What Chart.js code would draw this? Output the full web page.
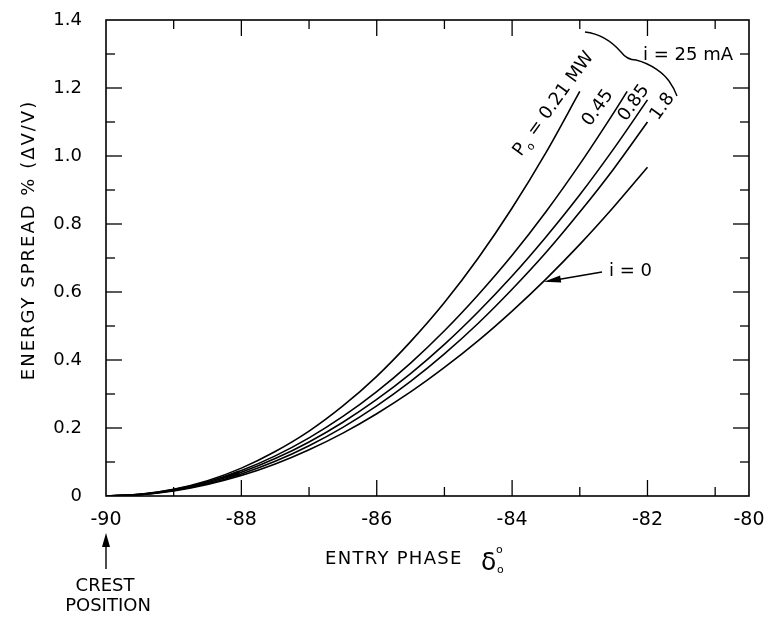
<!DOCTYPE html>
<html><head><meta charset="utf-8">
<script src="https://cdn.jsdelivr.net/npm/chart.js@4/dist/chart.umd.min.js"></script>
<style>html,body{margin:0;padding:0;background:#fff}canvas{display:block}</style>
</head><body>
<canvas id="c" width="765" height="618"></canvas>
<script>
// ---- data ----
const phaseP021 = [-90,-89.5,-89,-88.5,-88,-87.5,-87,-86.5,-86,-85.5,-85,-84.5,-84,-83.5,-83];
const spreadP021 = [0,0.005,0.020,0.045,0.082,0.131,0.191,0.265,0.352,0.454,0.569,0.700,0.847,1.010,1.190];

const phaseP045 = [-90,-89.5,-89,-88.5,-88,-87.5,-87,-86.5,-86,-85.5,-85,-84.5,-84,-83.5,-83,-82.5,-82.3];
const spreadP045 = [0,0.005,0.019,0.042,0.075,0.118,0.171,0.234,0.307,0.391,0.486,0.592,0.708,0.836,0.976,1.127,1.190];

const phaseP085 = [-90,-89.5,-89,-88.5,-88,-87.5,-87,-86.5,-86,-85.5,-85,-84.5,-84,-83.5,-83,-82.5,-82];
const spreadP085 = [0,0.004,0.017,0.039,0.070,0.110,0.159,0.217,0.284,0.360,0.446,0.542,0.647,0.762,0.886,1.021,1.165];

const phaseP18 = [-90,-89.5,-89,-88.5,-88,-87.5,-87,-86.5,-86,-85.5,-85,-84.5,-84,-83.5,-83,-82.5,-82];
const spreadP18 = [0,0.004,0.016,0.036,0.065,0.102,0.148,0.202,0.265,0.337,0.418,0.508,0.608,0.716,0.835,0.962,1.100];

const phaseI0 = [-90,-89.5,-89,-88.5,-88,-87.5,-87,-86.5,-86,-85.5,-85,-84.5,-84,-83.5,-83,-82.5,-82];
const spreadI0 = [0,0.004,0.015,0.034,0.060,0.094,0.136,0.185,0.242,0.306,0.378,0.457,0.544,0.638,0.740,0.850,0.967];

const xTickValues = [-90,-88,-86,-84,-82,-80.5];
const xTickLabels = ['-90','-88','-86','-84','-82','-80'];
const yTickLabels = ['0','0.2','0.4','0.6','0.8','1.0','1.2','1.4'];

const FONT = "'DejaVu Sans', sans-serif";

function pts(xs, ys){ return xs.map((v,i)=>({x:v, y:ys[i]})); }
function ds(xs, ys){
  return { data: pts(xs, ys), showLine: true, borderColor: '#000', borderWidth: 1.6,
           pointRadius: 0, fill: false, cubicInterpolationMode: 'monotone' };
}

function arrowHead(ctx, tx, ty, fx, fy, len, half){
  const a = Math.atan2(ty-fy, tx-fx);
  const bx = tx - len*Math.cos(a), by = ty - len*Math.sin(a);
  ctx.beginPath();
  ctx.moveTo(tx, ty);
  ctx.lineTo(bx + half*Math.sin(a), by - half*Math.cos(a));
  ctx.lineTo(bx - half*Math.sin(a), by + half*Math.cos(a));
  ctx.closePath(); ctx.fill();
}
function rotText(ctx, parts, x, y, deg){
  ctx.save(); ctx.translate(x, y); ctx.rotate(deg*Math.PI/180);
  ctx.textBaseline = 'alphabetic'; ctx.textAlign = 'left';
  let cx = 0;
  for (const p of parts){ ctx.font = p.font; ctx.fillText(p.t, cx, p.dy||0); cx += ctx.measureText(p.t).width + (p.gap||0); }
  ctx.restore();
}

const annot = {
  id: 'annot',
  afterDraw(chart){
    const {ctx, chartArea: a, scales: {x, y}} = chart;
    ctx.save();
    ctx.strokeStyle = '#000'; ctx.fillStyle = '#000'; ctx.lineWidth = 1.6;
    ctx.strokeRect(a.left, a.top, a.right - a.left, a.bottom - a.top);
    ctx.lineWidth = 1.3;
    const line = (x1,y1,x2,y2)=>{ ctx.beginPath(); ctx.moveTo(x1,y1); ctx.lineTo(x2,y2); ctx.stroke(); };
    for (let v = -89; v <= -81; v++){
      const px = x.getPixelForValue(v), L = (v % 2 === 0) ? 16 : 9;
      line(px, a.bottom, px, a.bottom - L); line(px, a.top, px, a.top + L);
    }
    for (let k = 1; k < 14; k++){
      const py = y.getPixelForValue(k/10), L = (k % 2 === 0) ? 16 : 9;
      line(a.left, py, a.left + L, py); line(a.right, py, a.right - L, py);
    }
    // y title
    ctx.save();
    ctx.translate(29, 240); ctx.rotate(-Math.PI/2);
    ctx.font = '18px ' + FONT; ctx.textAlign = 'center'; ctx.textBaseline = 'middle';
    ctx.letterSpacing = '2px';
    ctx.fillText('ENERGY SPREAD % (ΔV/V)', 0, 0);
    ctx.restore();
    // x title
    ctx.save();
    ctx.font = '18px ' + FONT; ctx.textAlign = 'left'; ctx.textBaseline = 'alphabetic';
    ctx.letterSpacing = '1.3px';
    ctx.fillText('ENTRY PHASE', 325, 564);
    ctx.restore();
    ctx.font = '25px ' + FONT; ctx.textAlign = 'left'; ctx.textBaseline = 'alphabetic';
    ctx.fillText('δ', 481, 570);
    ctx.font = '11px ' + FONT; ctx.fillText('o', 496, 553); ctx.fillText('o', 497, 573);
    // crest arrow
    const cx0 = x.getPixelForValue(-90);
    ctx.lineWidth = 1.4; line(cx0, 569, cx0, 545);
    arrowHead(ctx, cx0, 533, cx0, 569, 14, 4);
    ctx.font = '18px ' + FONT; ctx.textAlign = 'center'; ctx.textBaseline = 'middle';
    ctx.fillText('CREST', cx0 - 1, 586);
    ctx.fillText('POSITION', cx0 + 2, 606);
    // i = 0 label and arrow
    ctx.textAlign = 'left';
    ctx.fillText('i = 0', 609, 271);
    const tipX = x.getPixelForValue(-83.53), tipY = y.getPixelForValue(0.63);
    line(602, 272, tipX + 10, tipY - 1.5);
    arrowHead(ctx, tipX, tipY, 602, 272, 17, 3.5);
    // small arrow on curves near origin
    arrowHead(ctx, x.getPixelForValue(-88.4), y.getPixelForValue(0.047),
              x.getPixelForValue(-87.9), y.getPixelForValue(0.075), 26, 2.6);
    // i = 25 mA + brace
    ctx.fillText('i = 25 mA', 643, 55);
    ctx.lineWidth = 1.4;
    ctx.beginPath();
    ctx.moveTo(585, 32);
    ctx.bezierCurveTo(603, 34, 614, 44, 621, 52);
    ctx.quadraticCurveTo(627, 60, 636, 60);
    ctx.bezierCurveTo(652, 64, 664, 74, 669, 81);
    ctx.quadraticCurveTo(674, 88, 677, 96);
    ctx.stroke();
    // rotated curve labels
    const F = '18px ' + FONT, Fs = '11px ' + FONT;
    rotText(ctx, [{t:'P', font:F}, {t:'o', font:Fs, dy:5, gap:1}, {t:' = 0.21 MW', font:F}], 521, 157, -54);
    rotText(ctx, [{t:'0.45', font:F}], 590, 127, -54);
    rotText(ctx, [{t:'0.85', font:F}], 626, 122, -54);
    rotText(ctx, [{t:'1.8', font:F}], 658, 121, -54);
    ctx.restore();
  }
};

new Chart(document.getElementById('c'), {
  type: 'scatter',
  data: { datasets: [
    ds(phaseP021, spreadP021), ds(phaseP045, spreadP045), ds(phaseP085, spreadP085),
    ds(phaseP18, spreadP18), ds(phaseI0, spreadI0)
  ]},
  options: {
    responsive: false, animation: false, devicePixelRatio: 1,
    layout: { autoPadding: false, padding: { top: 20, right: 16, left: 0, bottom: 0 } },
    plugins: { legend: { display: false }, tooltip: { enabled: false } },
    scales: {
      x: {
        type: 'linear', min: -90, max: -80.5,
        grid: { display: false, drawTicks: false }, border: { display: false },
        afterFit(s){ s.height = 122; s.paddingLeft = 0; s.paddingRight = 0; },
        afterBuildTicks(s){ s.ticks = xTickValues.map(v => ({ value: v })); },
        ticks: { color: '#000', padding: 13, maxRotation: 0, autoSkip: false,
                 font: { family: FONT, size: 19 },
                 callback: (v) => xTickLabels[xTickValues.indexOf(v)] }
      },
      y: {
        type: 'linear', min: 0, max: 1.4,
        grid: { display: false, drawTicks: false }, border: { display: false },
        afterFit(s){ s.width = 106; s.paddingTop = 0; s.paddingBottom = 0; },
        ticks: { color: '#000', padding: 24, stepSize: 0.2,
                 font: { family: FONT, size: 18 },
                 callback: (v) => yTickLabels[Math.round(v / 0.2)] }
      }
    }
  },
  plugins: [annot]
});
</script>
</body></html>
